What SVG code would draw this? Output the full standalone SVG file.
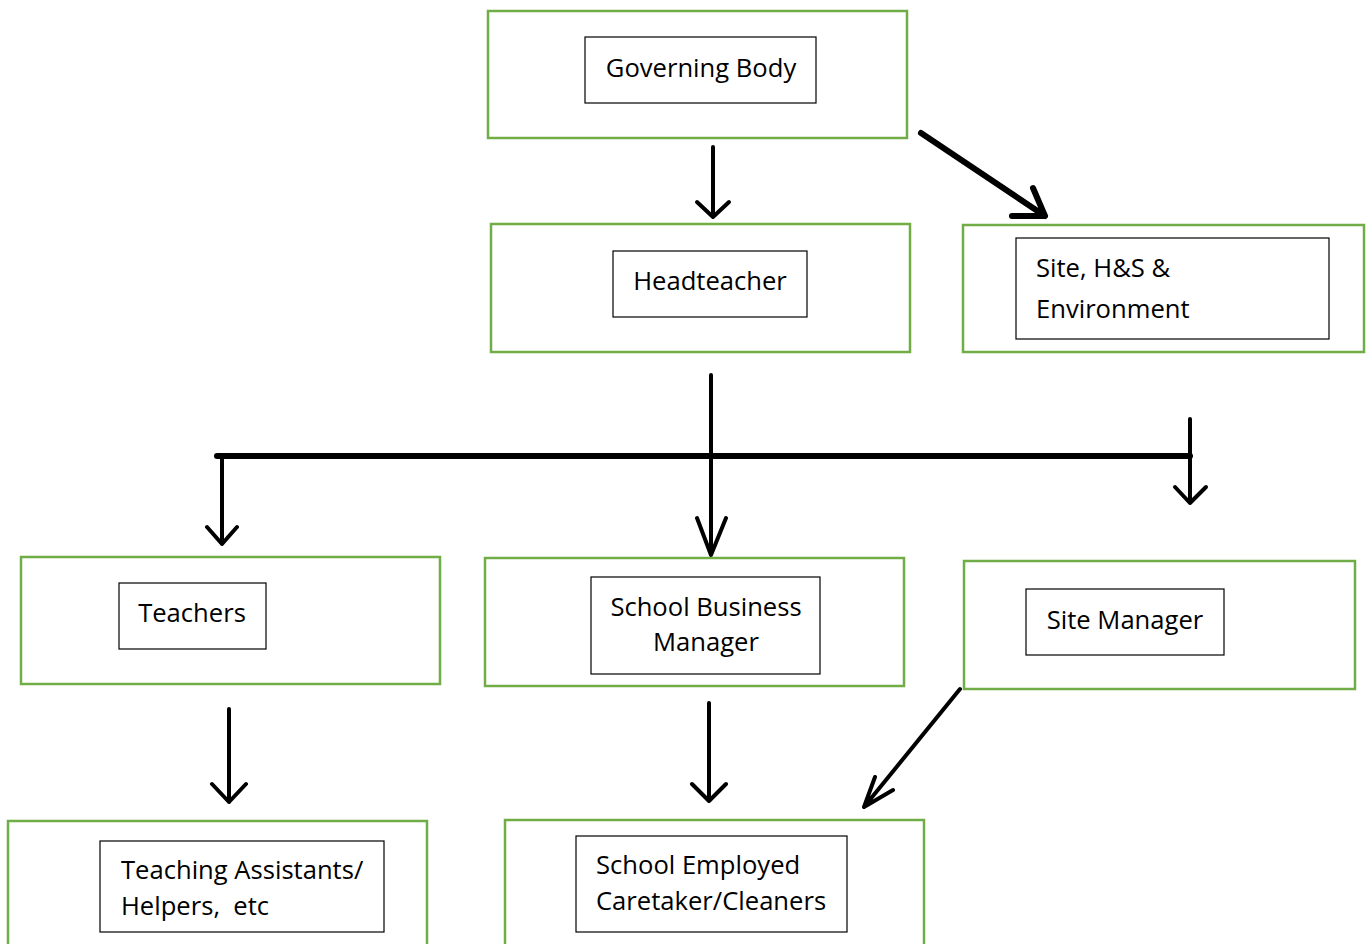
<svg xmlns="http://www.w3.org/2000/svg" width="1368" height="944" viewBox="0 0 1368 944">
<style>
.outer{fill:#fff;stroke:#70AD47;stroke-width:2.5}
.inner{fill:#fff;stroke:#000;stroke-width:1.2}
.t{font-family:"Open Sans","Noto Sans",sans-serif;font-size:25.6px;fill:#000}
.c{text-anchor:middle}
.ln{fill:none;stroke:#000;stroke-width:4;stroke-linecap:round;stroke-linejoin:round}
.thick{stroke-width:6}
</style>
<rect width="1368" height="944" fill="#fff"/>
<g id="governing-body">
<rect class="outer" x="488" y="11" width="419" height="127"/>
<rect class="inner" x="585" y="37" width="231" height="66"/>
<text class="t c" x="701" y="77">Governing Body</text>
</g>
<g id="headteacher">
<rect class="outer" x="491" y="224" width="419" height="128"/>
<rect class="inner" x="613" y="251" width="194" height="66"/>
<text class="t c" x="710" y="290">Headteacher</text>
</g>
<g id="site-hs">
<rect class="outer" x="963" y="225" width="401" height="127"/>
<rect class="inner" x="1016" y="238" width="313" height="101"/>
<text class="t" x="1036" y="277">Site, H&amp;S &amp;</text>
<text class="t" x="1036" y="318">Environment</text>
</g>
<g id="teachers">
<rect class="outer" x="21" y="557" width="419" height="127"/>
<rect class="inner" x="119" y="583" width="147" height="66"/>
<text class="t c" x="192" y="622">Teachers</text>
</g>
<g id="sbm">
<rect class="outer" x="485" y="558" width="419" height="128"/>
<rect class="inner" x="591" y="577" width="229" height="97"/>
<text class="t c" x="706" y="616">School Business</text>
<text class="t c" x="706" y="651">Manager</text>
</g>
<g id="site-manager">
<rect class="outer" x="964" y="561" width="391" height="128"/>
<rect class="inner" x="1026" y="589" width="198" height="66"/>
<text class="t c" x="1125" y="629">Site Manager</text>
</g>
<g id="teaching-assistants">
<rect class="outer" x="8" y="821" width="419" height="130"/>
<rect class="inner" x="100" y="841" width="284" height="91"/>
<text class="t" x="121" y="879">Teaching Assistants/</text>
<text class="t" x="121" y="915" xml:space="preserve">Helpers,  etc</text>
</g>
<g id="caretakers">
<rect class="outer" x="505" y="820" width="419" height="130"/>
<rect class="inner" x="576" y="836" width="271" height="96"/>
<text class="t" x="596" y="874">School Employed</text>
<text class="t" x="596" y="910">Caretaker/Cleaners</text>
</g>
<g id="connectors">
<path class="ln" d="M713 147V217M697 202L713 217L729 202"/>
<path class="ln thick" d="M921 133L1045 216M1033 188L1045 216L1012 216"/>
<path class="ln thick" d="M217 456H1190" stroke-linecap="butt"/>
<path class="ln" d="M711 375V555M697 518L711 555L726 518"/>
<path class="ln" d="M222 458V544M207 527L222 544L237 527"/>
<path class="ln" d="M1190 419V503M1175 487L1190 503L1206 487"/>
<path class="ln" d="M229 709V802M212 784L229 802L246 784"/>
<path class="ln" d="M709 703V801M692 784L709 801L726 784"/>
<path class="ln" d="M960 689L864 807M875 777L864 807L893 790"/>
</g>
</svg>
